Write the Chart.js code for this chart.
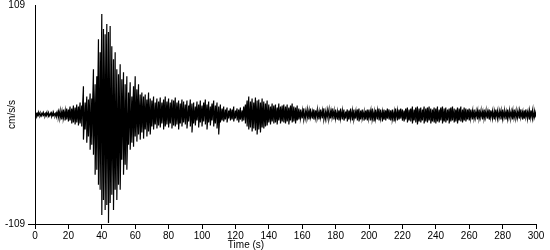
<!DOCTYPE html>
<html>
<head>
<meta charset="utf-8">
<script src="https://cdn.jsdelivr.net/npm/chart.js@4/dist/chart.umd.min.js"></script>
<style>
  html, body { margin: 0; padding: 0; background: #fff; }
  #wrap { width: 550px; height: 250px; }
</style>
</head>
<body>
<div id="wrap"><canvas id="c" width="550" height="250"></canvas></div>
<script>
// Time samples (s)
const times = Array.from({ length: 301 }, (_, i) => i);

// Upper envelope of the trace per second (cm/s/s)
const upper = [
  2,1,2,2,1,2,1,2,2,1,
  2,2,1,2,3,4,3,5,4,6,
  5,8,6,9,7,10,8,12,9,28,
  12,18,15,21,16,45,30,38,75,62,
  100,85,80,90,82,88,68,55,62,45,
  40,50,35,42,30,38,22,32,18,28,
  38,25,30,20,22,18,20,15,22,16,
  14,18,12,16,13,17,12,15,18,13,
  16,12,15,14,17,12,14,11,15,13,
  10,14,9,15,11,12,8,13,10,14,
  9,12,15,10,13,8,11,14,9,12,
  8,10,6,8,5,7,4,6,5,8,
  4,6,5,7,4,8,10,14,18,13,
  16,12,17,14,15,12,16,13,11,14,
  10,8,11,9,10,7,11,8,9,10,
  8,10,7,9,11,8,7,9,6,5,
  4,6,3,5,4,6,3,5,4,5,
  3,5,4,6,3,4,5,3,6,4,
  5,3,4,6,4,5,3,5,4,6,
  4,5,3,5,6,4,5,3,4,5,
  5,4,6,3,5,4,6,5,3,5,
  4,6,5,4,5,3,6,4,5,6,
  5,4,6,7,5,6,8,5,7,8,
  6,7,5,8,6,7,8,6,5,7,
  6,8,5,7,8,6,7,5,6,7,
  8,6,5,7,6,8,5,7,6,5,
  6,5,4,5,3,4,5,4,3,5,
  4,3,5,4,4,3,5,4,3,4,
  5,4,3,5,4,3,4,5,4,3,
  4,5,3,4,5,3,4,4,5,3,3
];

// Lower envelope of the trace per second (cm/s/s)
const lower = [
  -1,-2,-1,-2,-1,-1,-2,-1,-2,-1,
  -2,-1,-2,-2,-3,-4,-5,-4,-6,-5,
  -7,-6,-9,-8,-10,-8,-11,-9,-12,-25,
  -15,-28,-22,-35,-30,-40,-60,-55,-70,-75,
  -100,-85,-95,-90,-108,-88,-80,-95,-75,-85,
  -70,-75,-45,-60,-50,-55,-30,-35,-28,-32,
  -22,-27,-20,-25,-18,-24,-15,-22,-17,-20,
  -12,-15,-10,-14,-11,-13,-9,-15,-12,-10,
  -13,-9,-14,-11,-12,-10,-15,-9,-12,-8,
  -10,-14,-7,-12,-18,-9,-11,-6,-13,-8,
  -12,-7,-10,-15,-8,-11,-6,-12,-9,-14,
  -20,-8,-6,-7,-5,-8,-4,-6,-5,-7,
  -4,-6,-8,-5,-7,-6,-9,-12,-15,-13,
  -17,-14,-16,-20,-15,-18,-13,-14,-12,-11,
  -8,-10,-7,-9,-8,-10,-6,-9,-7,-8,
  -9,-7,-10,-6,-8,-7,-9,-6,-5,-4,
  -4,-5,-3,-4,-5,-3,-4,-5,-3,-4,
  -5,-3,-4,-5,-4,-3,-5,-4,-3,-5,
  -4,-5,-6,-4,-5,-6,-4,-7,-5,-4,
  -6,-5,-4,-6,-7,-5,-4,-6,-5,-6,
  -4,-6,-5,-7,-4,-5,-6,-4,-7,-5,
  -6,-4,-5,-6,-5,-7,-4,-6,-5,-4,
  -6,-7,-5,-8,-6,-7,-9,-6,-8,-10,
  -7,-8,-6,-9,-7,-8,-6,-9,-7,-8,
  -9,-7,-8,-6,-9,-7,-8,-6,-9,-7,
  -6,-8,-7,-9,-6,-7,-8,-6,-7,-5,
  -6,-4,-5,-4,-3,-5,-4,-3,-5,-4,
  -3,-4,-5,-3,-4,-5,-3,-4,-3,-5,
  -4,-3,-5,-4,-3,-4,-5,-3,-4,-3,
  -4,-3,-5,-4,-3,-4,-5,-3,-4,-3,-3
];

// Tick labels
const yTickLabels = [-109, 109];
const xMin = 0, xMax = 300, xStep = 20;
const xTitle = 'Time (s)';
const yTitle = 'cm/s/s';

// Build the trace: at each second, stroke from upper to lower extreme
const trace = [];
for (let i = 0; i < times.length; i++) {
  trace.push({ x: times[i], y: upper[i] });
  trace.push({ x: times[i], y: lower[i] });
}

const FONT = { family: "'Liberation Sans', Arial, sans-serif", size: 10 };

const xTitlePlugin = {
  id: 'xTitlePlugin',
  afterDraw(chart) {
    const c = chart.ctx;
    c.save();
    c.font = "10px 'Liberation Sans', Arial, sans-serif";
    c.fillStyle = '#000';
    c.textAlign = 'center';
    c.textBaseline = 'middle';
    c.fillText(xTitle, chart.chartArea.left + 211, 245);
    c.restore();
  }
};

new Chart(document.getElementById('c'), {
  type: 'line',
  data: {
    datasets: [{
      data: trace,
      borderColor: '#000',
      backgroundColor: '#000',
      borderWidth: 1.2,
      pointRadius: 0,
      tension: 0,
      fill: 'origin'
    }]
  },
  options: {
    responsive: false,
    animation: false,
    parsing: false,
    normalized: true,
    devicePixelRatio: 1,
    layout: { padding: { top: 5, right: 14, left: 0, bottom: 0 } },
    plugins: { legend: { display: false }, tooltip: { enabled: false } },
    scales: {
      x: {
        type: 'linear',
        min: xMin,
        max: xMax,
        ticks: { stepSize: xStep, color: '#000', font: FONT, padding: 1, maxRotation: 0, autoSkip: false },
        grid: { drawOnChartArea: false, drawTicks: true, tickLength: 5, color: '#000' },
        border: { display: true, color: '#000', width: 1 },
        afterFit(s) { s.height = 26; s.paddingLeft = 0; s.paddingRight = 0; }
      },
      y: {
        type: 'linear',
        min: yTickLabels[0],
        max: yTickLabels[1],
        afterBuildTicks(s) { s.ticks = yTickLabels.map(v => ({ value: v })); },
        ticks: { color: '#000', font: FONT, padding: 3, callback: v => String(v) },
        grid: {
          drawOnChartArea: false, drawTicks: true, tickLength: 7,
          color: ctx => (ctx.tick && ctx.tick.value === yTickLabels[0]) ? '#000' : 'rgba(0,0,0,0)'
        },
        border: { display: true, color: '#000', width: 1 },
        title: { display: true, text: yTitle, color: '#000', font: FONT, padding: { top: 6, bottom: 0 } },
        afterFit(s) { s.width = 35; s.paddingTop = 0; s.paddingBottom = 0; }
      }
    }
  },
  plugins: [xTitlePlugin]
});
</script>
</body>
</html>
